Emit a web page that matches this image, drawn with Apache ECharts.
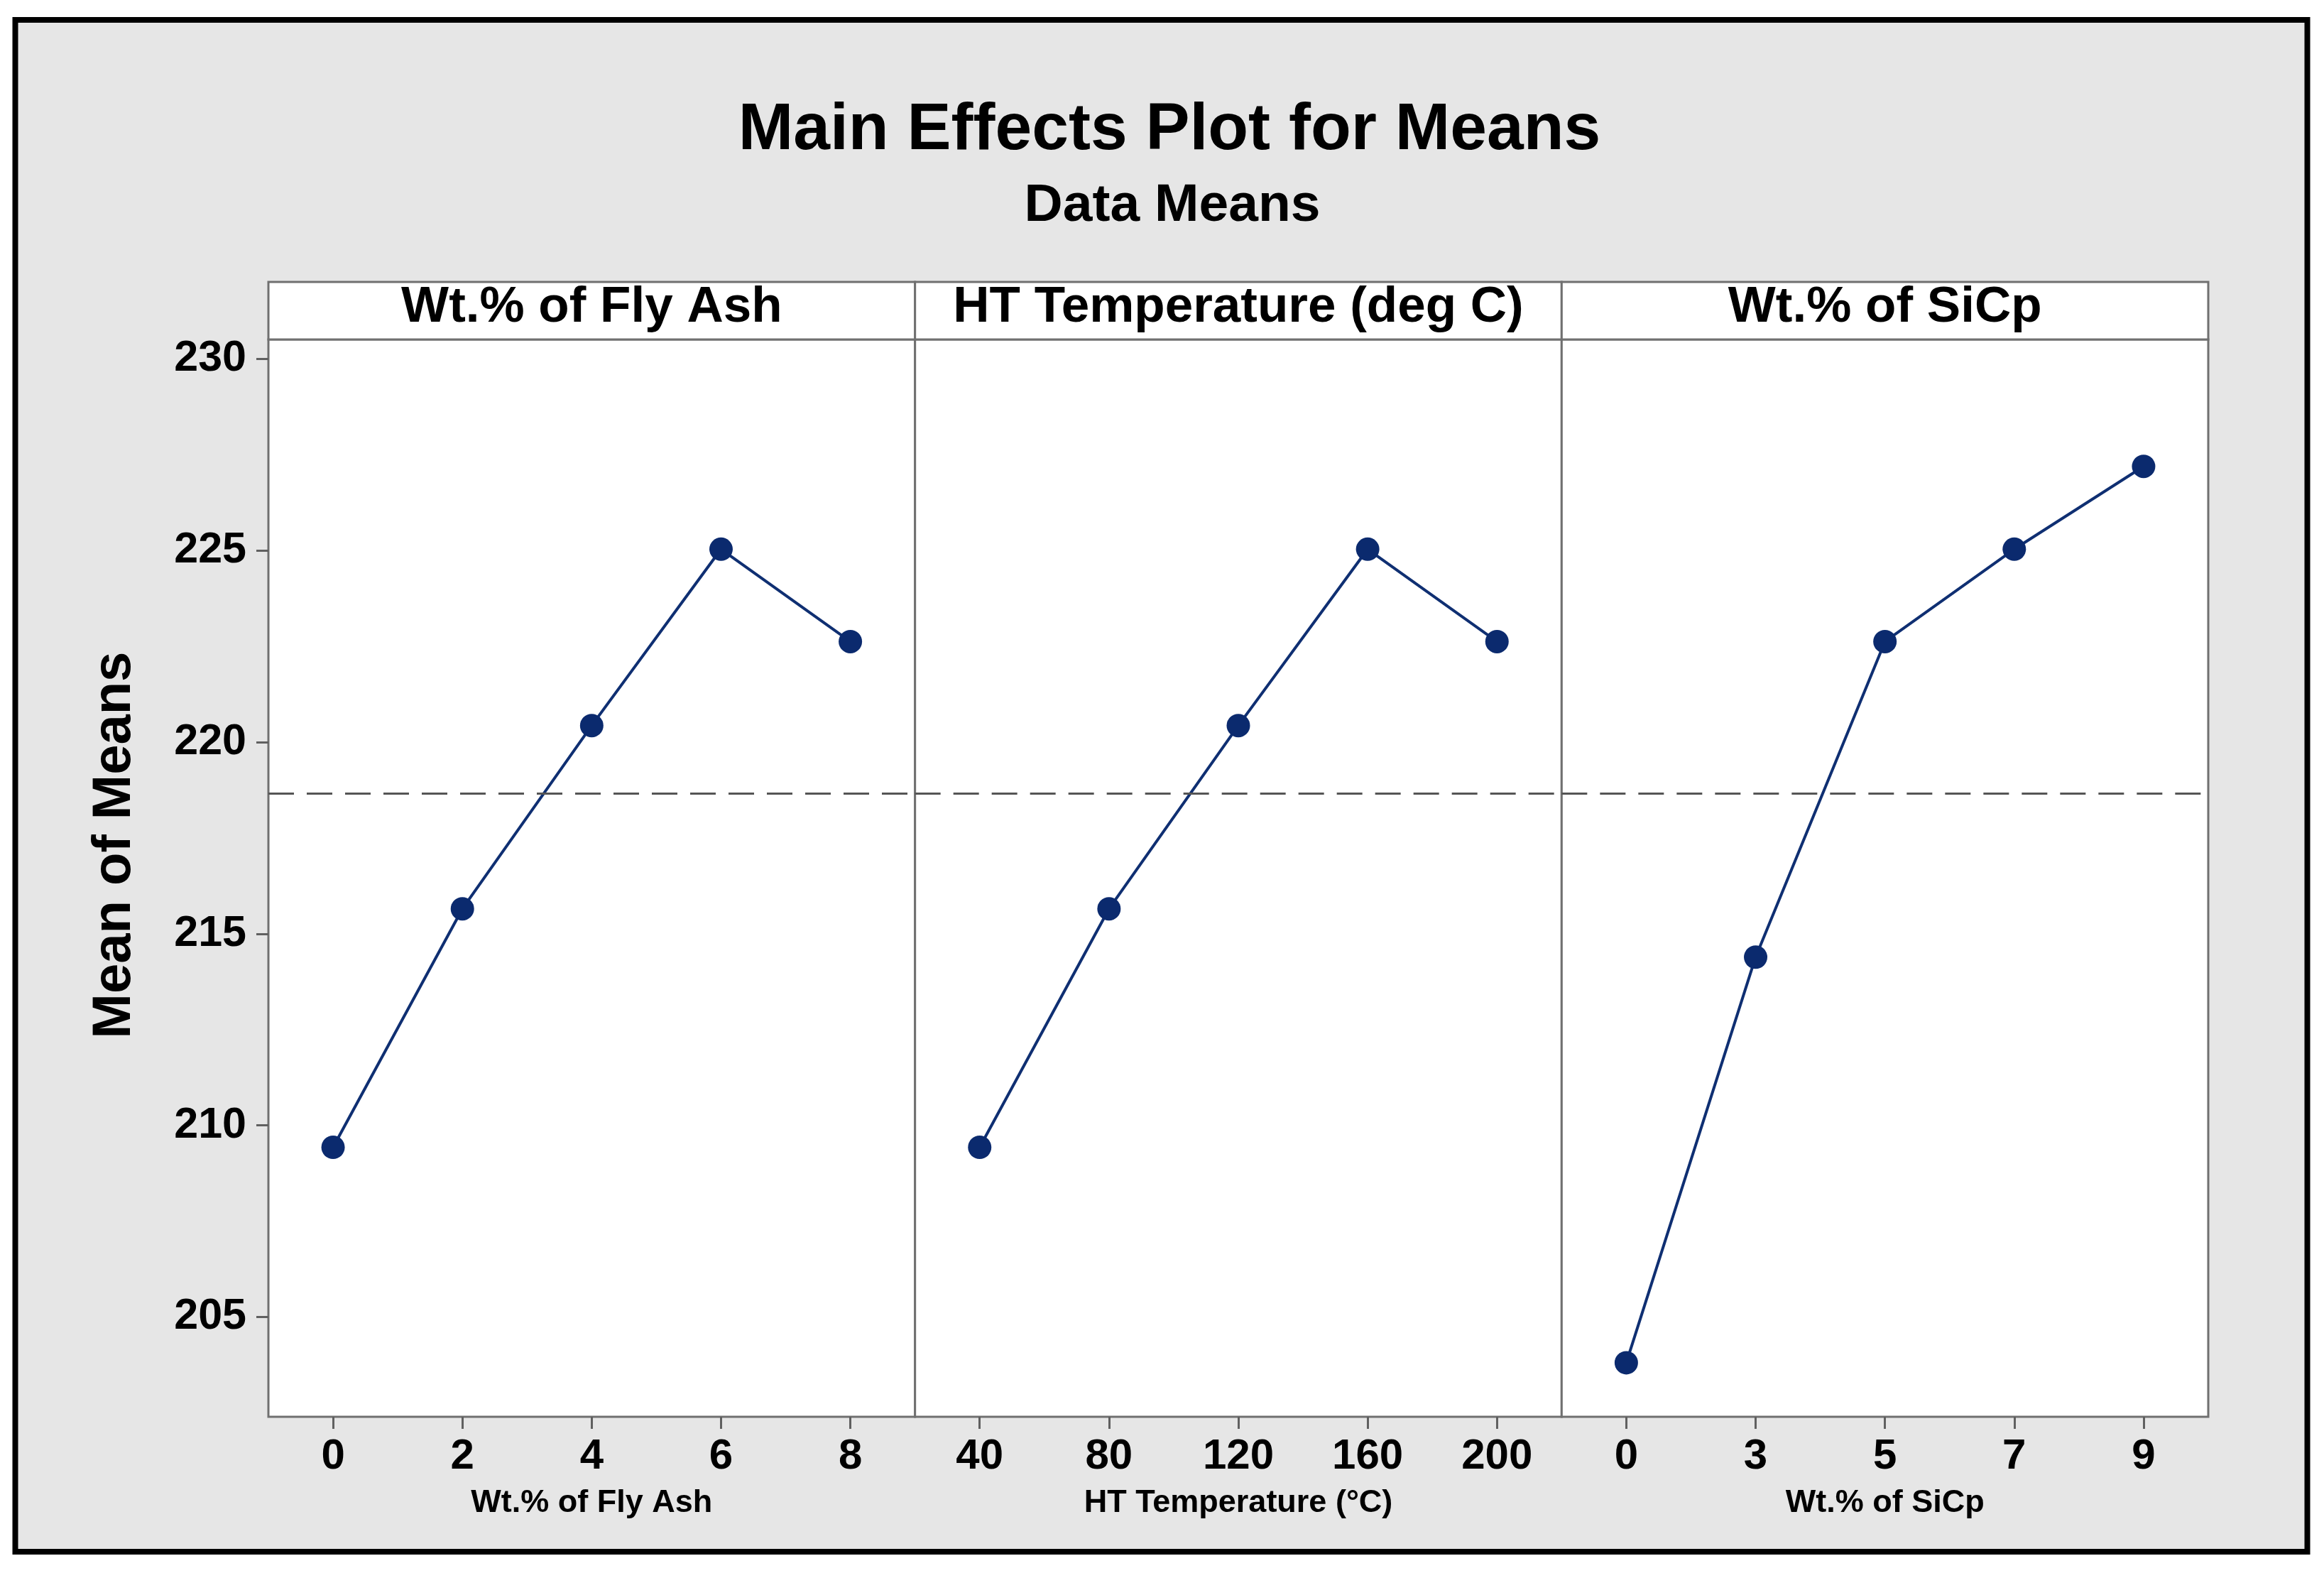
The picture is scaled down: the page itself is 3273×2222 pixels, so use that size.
<!DOCTYPE html>
<html>
<head>
<meta charset="utf-8">
<script src="https://cdn.jsdelivr.net/npm/echarts@6/dist/echarts.min.js"></script>
<style>
html,body{margin:0;padding:0;background:#fff;}
#chart{width:3273px;height:2222px;}
</style>
</head>
<body>
<div id="chart"></div>
<script>
// ---- data ----
const flyAshLevels = ['0', '2', '4', '6', '8'];
const htTempLevels = ['40', '80', '120', '160', '200'];
const sicpLevels = ['0', '3', '5', '7', '9'];

const flyAshMeans = [209.43, 215.65, 220.43, 225.03, 222.62];
const htTempMeans = [209.43, 215.65, 220.43, 225.03, 222.62];
const sicpMeans = [203.81, 214.39, 222.62, 225.03, 227.19];

const grandMean = 218.65;

const panelHeaders = ['Wt.% of Fly Ash', 'HT Temperature (deg C)', 'Wt.% of SiCp'];
const axisNames = ['Wt.% of Fly Ash', 'HT Temperature (°C)', 'Wt.% of SiCp'];
const yTicks = [205, 210, 215, 220, 225, 230];

const titleText = 'Main Effects Plot for Means';
const subtitleText = 'Data Means';
const yAxisTitle = 'Mean of Means';

// ---- layout ----
const FONT = '"Liberation Sans", Arial, sans-serif';
const levels = [flyAshLevels, htTempLevels, sicpLevels];
const means = [flyAshMeans, htTempMeans, sicpMeans];
const PANEL_LEFT = 378, PANEL_W = (3110 - 378) / 3;
const PLOT_TOP = 478, PLOT_BOTTOM = 1995, HEADER_TOP = 397;
const BORDER = '#707070';
const LINE_COLOR = '#0f2f72';

const grids = [], xAxes = [], yAxes = [], series = [], graphics = [];

graphics.push({
  type: 'rect', z: -100,
  shape: {x: 21.5, y: 28, width: 3228, height: 2157},
  style: {fill: '#e6e6e6', stroke: '#000', lineWidth: 8}
});
graphics.push({
  type: 'text', x: 162, y: 1190, rotation: Math.PI / 2,
  style: {text: yAxisTitle, fontSize: 76, fontWeight: 'bold', fontFamily: FONT,
          fill: '#000', align: 'center', verticalAlign: 'middle'}
});

for (let i = 0; i < 3; i++) {
  const left = PANEL_LEFT + i * PANEL_W;
  grids.push({
    left: left, top: PLOT_TOP, width: PANEL_W, height: PLOT_BOTTOM - PLOT_TOP,
    show: true, backgroundColor: '#fff', borderColor: BORDER, borderWidth: 3,
    containLabel: false
  });
  xAxes.push({
    type: 'category', gridIndex: i, data: levels[i], boundaryGap: true,
    axisLine: {show: false},
    axisTick: {show: true, alignWithLabel: true, length: 17, lineStyle: {color: '#606060', width: 3}},
    axisLabel: {fontSize: 60, fontWeight: 'bold', color: '#000', margin: 26, fontFamily: FONT},
    splitLine: {show: false},
    name: axisNames[i], nameLocation: 'middle', nameGap: 99,
    nameTextStyle: {fontSize: 45, fontWeight: 'bold', color: '#000', fontFamily: FONT}
  });
  yAxes.push({
    type: 'value', gridIndex: i, min: 202.4, max: 230.5,
    show: i === 0,
    axisLine: {show: false},
    axisTick: {show: i === 0, length: 17, customValues: yTicks, lineStyle: {color: '#606060', width: 3}},
    axisLabel: {show: i === 0, customValues: yTicks, fontSize: 61, fontWeight: 'bold',
                color: '#000', margin: 31, fontFamily: FONT},
    splitLine: {show: false}
  });
  series.push({
    type: 'line', xAxisIndex: i, yAxisIndex: i, data: means[i],
    symbol: 'circle', symbolSize: 33,
    itemStyle: {color: '#0b2a6e'},
    lineStyle: {color: LINE_COLOR, width: 4},
    markLine: {
      silent: true, symbol: 'none', animation: false,
      label: {show: false},
      lineStyle: {color: '#555', width: 3, type: [36, 18]},
      data: [{yAxis: grandMean}]
    }
  });
  graphics.push({
    type: 'rect',
    shape: {x: left, y: HEADER_TOP, width: PANEL_W, height: PLOT_TOP - HEADER_TOP},
    style: {fill: '#fff', stroke: BORDER, lineWidth: 3}
  });
  graphics.push({
    type: 'text', x: left + PANEL_W / 2, y: 433,
    style: {text: panelHeaders[i], fontSize: 71, fontWeight: 'bold', fontFamily: FONT,
            fill: '#000', align: 'center', verticalAlign: 'middle'}
  });
}

const chart = echarts.init(document.getElementById('chart'), null, {renderer: 'canvas'});
chart.setOption({
  backgroundColor: '#fff',
  animation: false,
  title: [
    {text: titleText, left: 1647, top: 138, textAlign: 'center', padding: 0,
     textStyle: {fontSize: 93, fontWeight: 'bold', color: '#000', fontFamily: FONT}},
    {text: subtitleText, left: 1651, top: 253, textAlign: 'center', padding: 0,
     textStyle: {fontSize: 75, fontWeight: 'bold', color: '#000', fontFamily: FONT}}
  ],
  grid: grids,
  xAxis: xAxes,
  yAxis: yAxes,
  series: series,
  graphic: graphics
});
</script>
</body>
</html>
